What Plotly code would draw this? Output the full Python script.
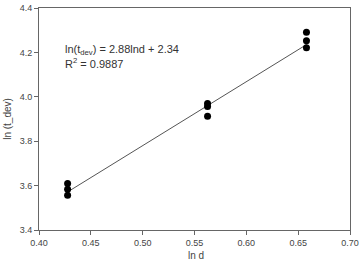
import plotly.graph_objects as go

ln_d = [0.4276, 0.4276, 0.4276, 0.5626, 0.5626, 0.5626, 0.658, 0.658, 0.658]
ln_tdev = [3.610, 3.584, 3.556, 3.970, 3.956, 3.912, 4.291, 4.252, 4.221]
slope = 2.88
intercept = 2.34
fit_x = [0.4276, 0.658]
fit_y = [slope * x + intercept for x in fit_x]

x_ticks = [0.40, 0.45, 0.50, 0.55, 0.60, 0.65, 0.70]
y_ticks = [3.4, 3.6, 3.8, 4.0, 4.2, 4.4]

fig = go.Figure()
fig.add_trace(go.Scatter(x=fit_x, y=fit_y, mode="lines",
                         line=dict(color="#555555", width=1), showlegend=False))
fig.add_trace(go.Scatter(x=ln_d, y=ln_tdev, mode="markers",
                         marker=dict(color="black", size=7), showlegend=False))

font = "Liberation Sans, Arial, sans-serif"
fig.add_annotation(x=0.423, y=4.212, xref="x", yref="y", xanchor="left", yanchor="middle",
                   text="ln(t<sub>dev</sub>) = 2.88lnd + 2.34", showarrow=False,
                   font=dict(family=font, size=11, color="#333"))
fig.add_annotation(x=0.423, y=4.152, xref="x", yref="y", xanchor="left", yanchor="middle",
                   text="R<sup>2</sup> = 0.9887", showarrow=False,
                   font=dict(family=font, size=11, color="#333"))
fig.add_annotation(x=0.505, y=0, xref="paper", yref="paper", xanchor="center", yanchor="bottom",
                   yshift=-32, text="ln d", showarrow=False, borderpad=0,
                   font=dict(family=font, size=10, color="#444"))

axis_common = dict(showgrid=False, zeroline=False, showline=True, linecolor="#666",
                   linewidth=1, mirror=True, ticks="outside", ticklen=4, tickcolor="#666",
                   ticklabeloverflow="allow",
                   tickfont=dict(family=font, size=9, color="#444"))
fig.update_xaxes(range=[0.40, 0.70], tickvals=x_ticks,
                 ticktext=[f"{v:.2f}" for v in x_ticks],
                 **axis_common)
fig.update_yaxes(range=[3.4, 4.4], tickvals=y_ticks,
                 ticktext=[f"{v:.1f}" for v in y_ticks],
                 title=dict(text="ln (t_dev)", font=dict(family=font, size=10, color="#444"), standoff=6),
                 **axis_common)
fig.update_layout(width=362, height=262, margin=dict(l=39, r=8, t=3, b=32),
                  plot_bgcolor="white", paper_bgcolor="white")
fig.write_html("out.html")
